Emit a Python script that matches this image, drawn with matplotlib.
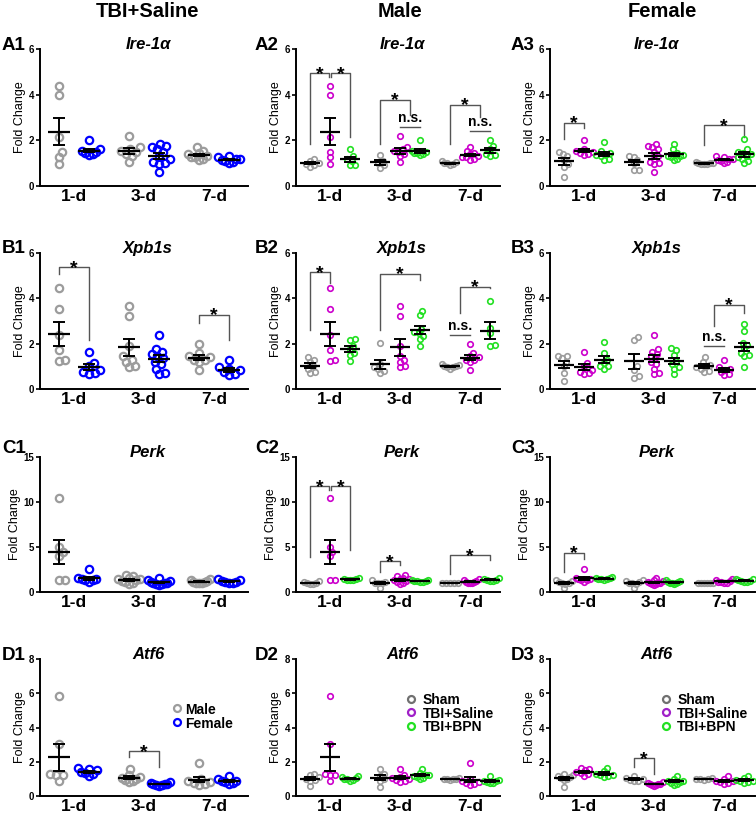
import numpy as np
import matplotlib
matplotlib.use('Agg')
import matplotlib.pyplot as plt

plt.rcParams['font.family'] = ['Liberation Sans', 'DejaVu Sans']
plt.rcParams['font.weight'] = 'bold'

# fold change values, one list per day (1-d, 3-d, 7-d)
DAYS = ['1-d', '3-d', '7-d']
GENES = ['Ire-1α', 'Xpb1s', 'Perk', 'Atf6']
COL_TITLES = ['TBI+Saline', 'Male', 'Female']

IRE_M_SHAM = [[1.2, 1.1, 1.0, 0.95, 0.9, 0.85], [1.35, 1.1, 1.0, 0.9, 0.8], [1.1, 1.05, 1.0, 1.0, 0.95, 0.9]]
IRE_M_SAL = [[4.4, 4.0, 2.15, 1.5, 1.27, 0.98], [2.2, 1.7, 1.6, 1.55, 1.5, 1.4, 1.3, 1.05],
             [1.7, 1.55, 1.45, 1.4, 1.3, 1.25, 1.2, 1.15, 1.25]]
IRE_M_BPN = [[1.6, 1.3, 1.2, 1.1, 0.9, 0.9], [2.0, 1.55, 1.5, 1.45, 1.45, 1.4, 1.35], [2.0, 1.75, 1.6, 1.4, 1.3, 1.35]]
IRE_F_SHAM = [[1.48, 1.42, 1.3, 1.15, 0.95, 0.85, 0.4], [1.32, 1.28, 1.15, 1.0, 0.72, 0.72],
              [1.05, 1.02, 1.0, 1.0, 0.98, 0.97, 0.95]]
IRE_F_SAL = [[2.0, 1.6, 1.55, 1.5, 1.45, 1.4, 1.35], [1.85, 1.75, 1.7, 1.6, 1.5, 1.3, 1.2, 1.05, 0.95, 0.6, 1.0],
             [1.3, 1.25, 1.2, 1.2, 1.15, 1.1, 1.05, 1.0]]
IRE_F_BPN = [[1.92, 1.55, 1.45, 1.4, 1.35, 1.3, 1.2, 1.15], [1.85, 1.6, 1.45, 1.4, 1.35, 1.3, 1.25, 1.2, 1.15, 1.3],
             [2.05, 1.6, 1.5, 1.45, 1.4, 1.3, 1.25, 1.2, 1.1, 1.0]]

XPB_M_SHAM = [[1.4, 1.3, 1.2, 1.0, 0.9, 0.75, 0.7], [2.05, 1.1, 0.95, 0.9, 0.8, 0.7], [1.1, 1.05, 1.0, 1.0, 0.95, 0.95, 0.9]]
XPB_M_SAL = [[4.45, 3.55, 2.4, 1.7, 1.3, 1.25], [3.65, 3.2, 1.9, 1.45, 1.3, 1.2, 1.0, 0.95],
             [2.0, 1.6, 1.45, 1.4, 1.3, 1.3, 1.2, 0.85]]
XPB_M_BPN = [[2.2, 2.15, 1.9, 1.75, 1.6, 1.5, 1.25], [3.45, 3.25, 2.65, 2.5, 2.45, 2.35, 2.2, 1.9],
             [3.9, 2.7, 2.45, 1.95, 1.9]]
XPB_F_SHAM = [[1.45, 1.45, 1.35, 1.2, 1.0, 0.7, 0.35], [2.28, 2.18, 1.0, 0.85, 0.56, 0.49],
              [1.4, 1.2, 1.05, 1.0, 0.95, 0.9, 0.8, 0.75]]
XPB_F_SAL = [[1.65, 1.15, 1.0, 0.85, 0.75, 0.7, 0.65], [2.4, 1.75, 1.65, 1.55, 1.45, 1.35, 1.2, 1.1, 0.9, 0.7, 0.65],
             [1.3, 0.95, 0.9, 0.85, 0.75, 0.65, 0.6]]
XPB_F_BPN = [[2.07, 1.6, 1.3, 1.15, 1.0, 0.9, 1.0], [1.8, 1.7, 1.5, 1.25, 1.1, 0.95, 0.9, 0.65],
             [2.85, 2.55, 2.05, 1.95, 1.8, 1.6, 1.5, 1.45, 0.95]]

PERK_M_SHAM = [[1.2, 1.1, 1.0, 0.95, 0.9, 0.85], [1.3, 1.15, 1.05, 1.0, 0.95, 0.5], [1.05, 1.0, 1.0, 0.98, 0.95]]
PERK_M_SAL = [[10.5, 5.0, 4.5, 4.0, 1.35, 1.3], [1.9, 1.75, 1.6, 1.5, 1.4, 1.3, 1.2, 1.1, 1.0, 0.9],
              [1.4, 1.3, 1.2, 1.15, 1.1, 1.05, 1.0, 1.0]]
PERK_M_BPN = [[1.6, 1.5, 1.4, 1.35, 1.3, 1.3], [1.35, 1.3, 1.25, 1.2, 1.2, 1.15, 1.1], [1.6, 1.45, 1.35, 1.3, 1.25, 1.2]]
PERK_F_SHAM = [[1.3, 1.2, 1.1, 1.0, 0.95, 0.9, 0.4], [1.3, 1.2, 1.1, 1.0, 0.95, 0.9, 0.45],
               [1.05, 1.0, 1.0, 0.98, 0.97, 0.95]]
PERK_F_SAL = [[2.55, 1.6, 1.5, 1.4, 1.35, 1.3, 1.1], [1.55, 1.35, 1.2, 1.1, 1.05, 1.0, 0.95, 0.9, 0.85, 0.8],
              [1.4, 1.3, 1.2, 1.15, 1.1, 1.05, 1.0]]
PERK_F_BPN = [[1.7, 1.6, 1.55, 1.5, 1.45, 1.4, 1.3], [1.35, 1.25, 1.15, 1.1, 1.05, 1.0, 0.95, 0.85],
              [1.5, 1.4, 1.3, 1.25, 1.2, 1.15, 1.1]]

ATF_M_SHAM = [[1.3, 1.2, 1.1, 1.0, 0.95, 0.9, 0.6], [1.6, 1.3, 1.15, 1.0, 0.85, 0.55], [1.05, 1.0, 1.0, 0.98, 0.97, 0.95]]
ATF_M_SAL = [[5.85, 3.05, 1.3, 1.25, 1.2, 0.9], [1.55, 1.2, 1.1, 1.05, 1.0, 0.95, 0.85, 0.8],
             [1.9, 1.0, 0.9, 0.8, 0.75, 0.7, 0.65]]
ATF_M_BPN = [[1.15, 1.1, 1.05, 1.0, 0.98, 0.95, 0.9], [1.55, 1.35, 1.25, 1.2, 1.15, 1.1, 1.05, 1.0],
             [1.15, 0.95, 0.9, 0.85, 0.8, 0.75, 0.75]]
ATF_F_SHAM = [[1.3, 1.2, 1.15, 1.1, 1.05, 1.0, 0.95, 0.55], [1.15, 1.05, 1.0, 0.95, 0.9, 0.85],
              [1.05, 1.02, 1.0, 0.98, 0.95]]
ATF_F_SAL = [[1.65, 1.6, 1.5, 1.4, 1.35, 1.3, 1.15], [0.8, 0.75, 0.7, 0.7, 0.65, 0.65, 0.6, 0.7],
             [1.15, 1.0, 0.9, 0.85, 0.8, 0.75, 0.7]]
ATF_F_BPN = [[1.65, 1.45, 1.3, 1.25, 1.2, 1.15, 1.1], [1.15, 1.0, 0.9, 0.85, 0.8, 0.75, 0.7, 0.65],
             [1.15, 1.05, 0.95, 0.9, 0.85, 0.8, 0.75]]

YMAX = [6, 6, 15, 8]
YTICKS = [[0, 2, 4, 6], [0, 2, 4, 6], [0, 5, 10, 15], [0, 2, 4, 6, 8]]

# significance brackets: (day, left item, right item, top, left foot, right foot, label)
BRACKETS = {
    (0, 1): [(0, 0, 0.95, 4.94, 1.86, 4.77, '*'), (0, 1.05, 2, 4.94, 4.77, 2.16, '*'),
             (1, 0, 1.5, 3.77, 1.86, 3.11, '*'), (2, 0, 1.5, 3.55, 1.86, 3.04, '*')],
    (0, 2): [(0, 0, 1, 2.77, 2.04, 2.52, '*'), (2, 0, 2, 2.67, 1.79, 2.16, '*')],
    (1, 0): [(0, 0, 1, 5.37, 5.09, 2.18, '*'), (2, 0, 1, 3.28, 2.91, 2.18, '*')],
    (1, 1): [(0, 0, 1, 5.15, 2.62, 4.68, '*'), (1, 0, 2, 5.09, 2.59, 4.82, '*'),
             (2, 0.5, 2, 4.5, 3.35, 4.46, '*')],
    (1, 2): [(2, 0.5, 2, 3.72, 2.79, 3.35, '*')],
    (2, 1): [(0, 0, 0.95, 11.74, 3.89, 11.3, '*'), (0, 1.05, 2, 11.74, 11.3, 4.63, '*'),
             (1, 0, 1, 3.41, 2.22, 3.04, '*'), (2, 0, 2, 4.07, 2.04, 3.52, '*')],
    (2, 2): [(0, 0, 1, 4.37, 2.22, 3.7, '*')],
    (3, 0): [(1, 0, 1, 2.62, 2.29, 1.7, '*')],
    (3, 2): [(1, 0, 1, 2.19, 1.7, 1.31, '*')],
}
# n.s. lines: (day, left item, right item, height)
NS_LINES = {
    (0, 1): [(1, 1, 2, 2.6), (2, 1, 2, 2.42)],
    (1, 1): [(2, 0, 1, 2.4)],
    (1, 2): [(2, 0, 1, 1.91)],
}

GREY = '#9c9c9c'
BLUE = '#0000ff'
MAGENTA = '#cc00cc'
GREEN = '#22e022'

# layout in pixels
FW, FH = 756, 816
COL_X0 = [40, 296, 550]
COL_W = [208, 204, 205]
ROW_Y0 = [49, 253, 457, 659]
ROW_H = [137, 136, 135, 137]
DAY_X = [34, 104, 174]


def swarm(vals, d, scale, limit):
    # beeswarm offsets (px), squeezed so the swarm stays within +-limit
    ys = np.asarray(vals, float) * scale
    offs = np.zeros(len(ys))
    placed = []
    for i in np.argsort(ys):
        cands = [0.0]
        for px, py in placed:
            dy = ys[i] - py
            if abs(dy) < d:
                dx = np.sqrt(d * d - dy * dy)
                cands += [px + dx, px - dx]
        cands.sort(key=abs)
        for c in cands:
            if all((c - px) ** 2 + (ys[i] - py) ** 2 >= d * d - 1e-6 for px, py in placed):
                offs[i] = c
                break
        placed.append((offs[i], ys[i]))
    big = np.abs(offs).max()
    if big > limit:
        offs = offs * limit / big
    return offs


fig = plt.figure(figsize=(FW / 100, FH / 100), dpi=100)

male = [[IRE_M_SHAM, IRE_M_SAL, IRE_M_BPN], [XPB_M_SHAM, XPB_M_SAL, XPB_M_BPN],
        [PERK_M_SHAM, PERK_M_SAL, PERK_M_BPN], [ATF_M_SHAM, ATF_M_SAL, ATF_M_BPN]]
female = [[IRE_F_SHAM, IRE_F_SAL, IRE_F_BPN], [XPB_F_SHAM, XPB_F_SAL, XPB_F_BPN],
          [PERK_F_SHAM, PERK_F_SAL, PERK_F_BPN], [ATF_F_SHAM, ATF_F_SAL, ATF_F_BPN]]

for r in range(4):
    for c in range(3):
        x0, w = COL_X0[c], COL_W[c]
        y0, h = ROW_Y0[r], ROW_H[r]
        ax = fig.add_axes([x0 / FW, 1 - (y0 + h) / FH, w / FW, h / FH])
        if c == 0:
            sets = [male[r][1], female[r][1]]
            cols = [GREY, BLUE]
            step, ms, mew, diam, half, lim = 30, 5.3, 1.6, 7.0, 11, 11
        else:
            src = male if c == 1 else female
            sets = src[r]
            cols = [GREY, MAGENTA, GREEN]
            step, ms, mew, diam, half, lim = 20, 4.0, 1.2, 5.4, 10, 8.5
        n = len(sets)
        scale = h / YMAX[r]

        def item_x(day, item):
            return DAY_X[day] + (item - (n - 1) / 2) * step

        for k in range(n):
            for d in range(3):
                vals = np.array(sets[k][d])
                xc = item_x(d, k)
                xs = xc + swarm(vals, diam * 0.9, scale, lim)
                ax.plot(xs, vals, 'o', ms=ms, mfc='none', mec=cols[k], mew=mew, zorder=2, clip_on=False)
                m = vals.mean()
                se = vals.std(ddof=1) / np.sqrt(len(vals))
                ax.plot([xc - half, xc + half], [m, m], color='black', lw=1.6, zorder=3, solid_capstyle='butt')
                ax.plot([xc, xc], [m - se, m + se], color='black', lw=1.4, zorder=3)
                for yy in (m - se, m + se):
                    ax.plot([xc - 6, xc + 6], [yy, yy], color='black', lw=1.4, zorder=3, solid_capstyle='butt')

        for day, a, b, top, fl, fr, lab in BRACKETS.get((r, c), []):
            xa, xb = item_x(day, a), item_x(day, b)
            ax.plot([xa, xa, xb, xb], [fl, top, top, fr], color='#555555', lw=1.0, zorder=1)
            ax.annotate(lab, xy=((xa + xb) / 2, top), xytext=(0, -4), textcoords='offset points',
                        ha='center', va='baseline', fontsize=14)
        for day, a, b, yy in NS_LINES.get((r, c), []):
            xa, xb = item_x(day, a), item_x(day, b)
            ax.plot([xa, xb], [yy, yy], color='#555555', lw=1.0, zorder=1)
            ax.annotate('n.s.', xy=((xa + xb) / 2, yy), xytext=(0, 1.5), textcoords='offset points',
                        ha='center', va='bottom', fontsize=10)

        ax.set_xlim(0, w)
        ax.set_ylim(0, YMAX[r])
        ax.set_yticks(YTICKS[r])
        ax.set_xticks(DAY_X)
        ax.set_xticklabels(DAYS, fontsize=12.5)
        ax.tick_params(axis='x', length=0, pad=2)
        ax.tick_params(axis='y', length=3, width=1.2, pad=1, labelsize=7)
        for s in ['top', 'right']:
            ax.spines[s].set_visible(False)
        for s in ['left', 'bottom']:
            ax.spines[s].set_linewidth(1.4)
        ax.set_ylabel('Fold Change', fontsize=9, labelpad=2)
        ax.text(0.52, 1.0, GENES[r], transform=ax.transAxes, ha='center', va='baseline',
                fontsize=12, style='italic')
        fig.text([2, 255, 511][c] / FW, 1 - [50, 253, 453, 660][r] / FH, '%s%d' % ('ABCD'[r], c + 1),
                 ha='left', va='baseline', fontsize=13.5)

        if r == 3:
            if c == 0:
                labels, lcols = ['Male', 'Female'], [GREY, BLUE]
                mx, tx, ly = 0.659, 0.70, [0.642, 0.54]
            else:
                labels, lcols = ['Sham', 'TBI+Saline', 'TBI+BPN'], ['#707070', '#a020c8', GREEN]
                mx, tx, ly = 0.565, 0.62, [0.71, 0.61, 0.511]
            for lab, lc, yy in zip(labels, lcols, ly):
                ax.plot([mx], [yy], 'o', ms=5, mfc='none', mec=lc, mew=1.6, transform=ax.transAxes)
                ax.text(tx, yy, lab, transform=ax.transAxes, ha='left', va='center_baseline', fontsize=10)

for c in range(3):
    fig.text([148, 400, 662][c] / FW, 1 - 17 / FH, COL_TITLES[c], ha='center', va='baseline', fontsize=14.5)

fig.savefig('out.png', dpi=100)
